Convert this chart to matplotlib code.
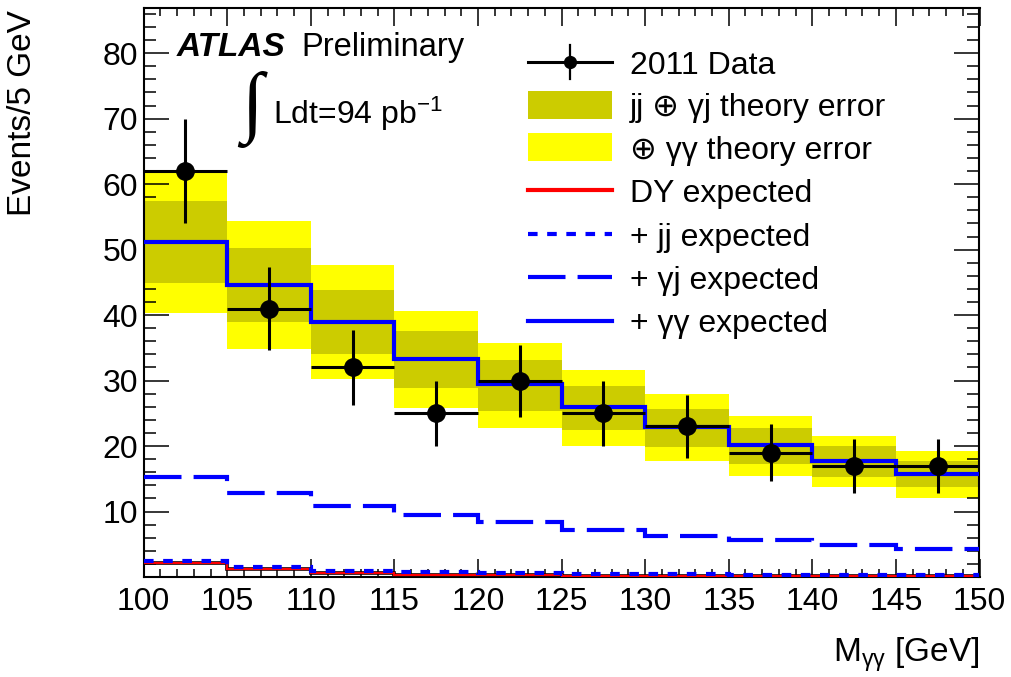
import numpy as np
import matplotlib
matplotlib.use("Agg")
import matplotlib.pyplot as plt
from matplotlib.patches import Rectangle
from matplotlib.lines import Line2D
from matplotlib.ticker import MultipleLocator

plt.rcParams['font.family'] = ['Liberation Sans', 'DejaVu Sans']
plt.rcParams['mathtext.default'] = 'regular'

# bins of M_gg (lower edges, 5 GeV wide)
bin_lo = [100, 105, 110, 115, 120, 125, 130, 135, 140, 145]
bin_w = 5

# 2011 data
data_n = [62, 41, 32, 25, 30, 25, 23, 19, 17, 17]
data_err = [7.9, 6.4, 5.7, 5.0, 5.5, 5.0, 4.8, 4.4, 4.1, 4.1]

# expectations (stacked)
dy_exp = [2.1, 1.2, 0.6, 0.35, 0.25, 0.2, 0.15, 0.12, 0.1, 0.1]
jj_exp = [2.5, 1.5, 0.9, 0.7, 0.6, 0.45, 0.4, 0.35, 0.3, 0.3]
gj_exp = [15.2, 12.8, 10.9, 9.5, 8.4, 7.2, 6.2, 5.6, 4.9, 4.3]
gg_exp = [51.2, 44.6, 39.0, 33.3, 29.4, 25.9, 22.9, 20.2, 17.7, 15.8]

# theory error bands
dark_lo = [44.9, 38.9, 34.1, 28.9, 25.4, 22.4, 19.8, 17.3, 15.2, 13.7]
dark_hi = [57.5, 50.2, 43.9, 37.5, 33.2, 29.2, 25.7, 22.7, 20.0, 17.7]
yel_lo = [40.3, 34.8, 30.3, 25.8, 22.8, 20.0, 17.7, 15.5, 13.7, 12.1]
yel_hi = [61.9, 54.4, 47.6, 40.6, 35.8, 31.6, 27.9, 24.6, 21.5, 19.2]

labels = ["2011 Data", "jj \u2295 \u03b3j theory error", "\u2295 \u03b3\u03b3 theory error",
          "DY expected", "+ jj expected", "+ \u03b3j expected", "+ \u03b3\u03b3 expected"]

yellow = "#ffff00"
dark = "#cccc00"
blue = "#0000ff"
red = "#ff0000"

edges = np.append(bin_lo, bin_lo[-1] + bin_w)
centers = np.array(bin_lo) + bin_w / 2

fig = plt.figure(figsize=(10.12, 6.77), dpi=100)
ax = fig.add_axes([143.7 / 1012, 1 - 577 / 677, 835.8 / 1012, 569 / 677])

ax.bar(bin_lo, np.subtract(yel_hi, yel_lo), bottom=yel_lo, width=bin_w, align='edge',
       color=yellow, linewidth=0, zorder=1)
ax.bar(bin_lo, np.subtract(dark_hi, dark_lo), bottom=dark_lo, width=bin_w, align='edge',
       color=dark, linewidth=0, zorder=2)

ax.stairs(dy_exp, edges, baseline=None, color='black', linewidth=2.6, zorder=3)
ax.stairs(dy_exp, edges, baseline=None, color=red, linewidth=1.6, zorder=3)
ax.stairs(jj_exp, edges, baseline=None, color=blue, linewidth=3, linestyle=(0, (2.3, 2.3)), zorder=4)
ax.stairs(gj_exp, edges, baseline=None, color=blue, linewidth=3, linestyle=(0, (9, 2.9)), zorder=4)
ax.stairs(gg_exp, edges, baseline=None, color=blue, linewidth=3, zorder=5)

ax.errorbar(centers, data_n, xerr=bin_w / 2, yerr=data_err, fmt='o', color='black',
            markersize=12.5, elinewidth=2.2, capsize=0, zorder=6)

ax.set_xlim(100, 150)
ax.set_ylim(0, 86.9)
ax.xaxis.set_major_locator(MultipleLocator(5))
ax.xaxis.set_minor_locator(MultipleLocator(1))
ax.yaxis.set_major_locator(MultipleLocator(10))
ax.yaxis.set_minor_locator(MultipleLocator(2))
ax.set_yticks([10, 20, 30, 40, 50, 60, 70, 80])
ax.tick_params(which='both', direction='in', top=True, right=True, width=1.1, labelsize=23)
ax.tick_params(axis='x', which='major', length=12.7, pad=7)
ax.tick_params(axis='x', which='minor', length=5.8)
ax.tick_params(axis='y', which='major', length=18, pad=4)
ax.tick_params(axis='y', which='minor', length=8.6)
for s in ax.spines.values():
    s.set_linewidth(1.5)

fig.text(23 / 1012, 1 - 10 / 677, "Events/5 GeV", rotation=90, ha='center', va='top', fontsize=24)
fig.text(980 / 1012, 1 - 662 / 677, "M$_{\u03b3\u03b3}$ [GeV]", ha='right', va='baseline', fontsize=24)

# ATLAS label
ax.text(0.04, 0.915, "ATLAS", transform=ax.transAxes, fontsize=24, fontweight='bold',
        fontstyle='italic', va='baseline')
ax.text(0.189, 0.915, "Preliminary", transform=ax.transAxes, fontsize=23.5, va='baseline')
ax.text(0.117, 0.790, "\u222b", transform=ax.transAxes, fontsize=57, va='baseline',
        family='Liberation Serif')
ax.text(0.155, 0.797, "Ldt=94 pb$^{-1}$", transform=ax.transAxes, fontsize=23, va='baseline')

# legend drawn by hand
x0, x1, xt = 0.46, 0.56, 0.582
rows = [0.905, 0.830, 0.755, 0.680, 0.602, 0.527, 0.450]
kw = dict(transform=ax.transAxes, clip_on=False, zorder=7)
ax.add_line(Line2D([x0, x1], [rows[0]] * 2, color='black', linewidth=2.2, **kw))
ax.add_line(Line2D([(x0 + x1) / 2] * 2, [rows[0] - 0.03, rows[0] + 0.03], color='black', linewidth=1.6, **kw))
ax.add_line(Line2D([(x0 + x1) / 2], [rows[0]], marker='o', color='black', markersize=8.5, **kw))
hh = 28 / 569
ax.add_patch(Rectangle((x0, rows[1] - hh / 2), x1 - x0, hh, facecolor=dark, edgecolor='none', **kw))
ax.add_patch(Rectangle((x0, rows[2] - hh / 2), x1 - x0, hh, facecolor=yellow, edgecolor='none', **kw))
ax.add_line(Line2D([x0, x1], [rows[3]] * 2, color=red, linewidth=3, **kw))
ax.add_line(Line2D([x0, x1], [rows[4]] * 2, color=blue, linewidth=3, linestyle=(0, (2.3, 2.3)), **kw))
ax.add_line(Line2D([x0, x1], [rows[5]] * 2, color=blue, linewidth=3, linestyle=(0, (9, 2.9)), **kw))
ax.add_line(Line2D([x0, x1], [rows[6]] * 2, color=blue, linewidth=3, **kw))
for r, lab in zip(rows, labels):
    ax.text(xt, r, lab, transform=ax.transAxes, fontsize=23, va='center_baseline')

fig.savefig("out.png", dpi=100)
